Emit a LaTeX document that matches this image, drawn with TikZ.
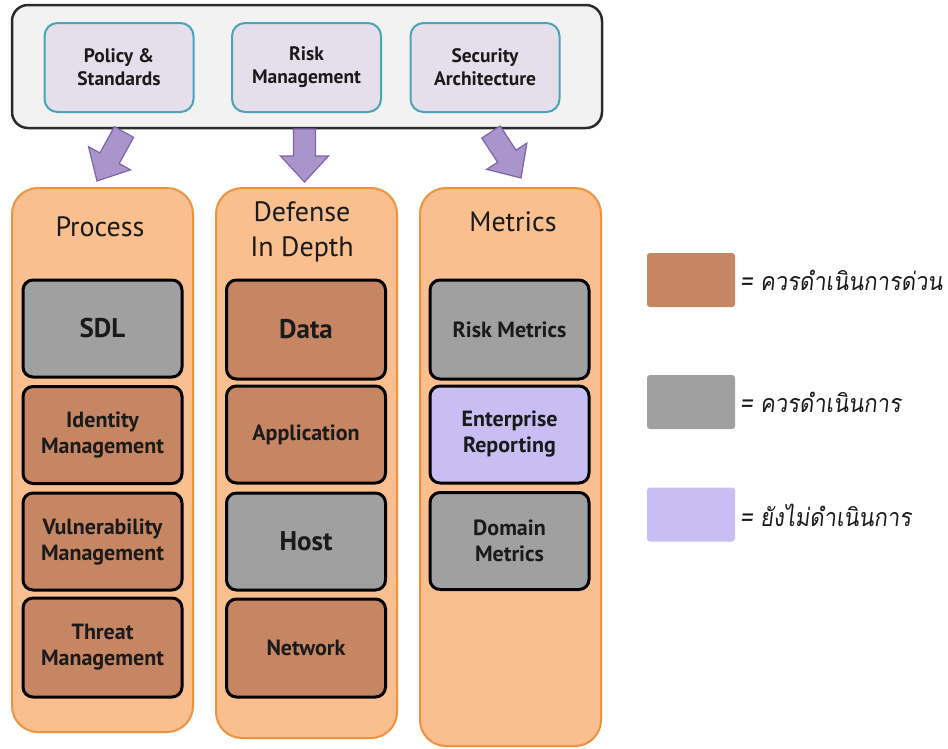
\documentclass[tikz,border=0pt]{standalone}
\usepackage{fontspec}
\setmainfont{PT Sans}
\newfontfamily\thaifont[Script=Thai,FakeSlant=0.12,FakeStretch=0.88]{Loma}
\usetikzlibrary{calc}

\definecolor{panelgray}{HTML}{F2F2F2}
\definecolor{panelline}{HTML}{2B2B2B}
\definecolor{lilac}{HTML}{E5DFEC}
\definecolor{tealline}{HTML}{4BA3B8}
\definecolor{arrowfill}{HTML}{A995CB}
\definecolor{arrowline}{HTML}{7F64A6}
\definecolor{colfill}{HTML}{F9BF8F}
\definecolor{colline}{HTML}{F0913F}
\definecolor{urgent}{HTML}{C68563}
\definecolor{pending}{HTML}{A0A0A0}
\definecolor{notyet}{HTML}{C8BEF4}
\definecolor{ink}{HTML}{1A1A1A}

\tikzset{
  outerpanel/.style={draw=panelline, fill=panelgray, line width=2.5pt, rounded corners=16pt},
  topbox/.style={draw=tealline, fill=lilac, line width=2pt, rounded corners=13pt,
    minimum width=149pt, minimum height=89pt, align=center, text=ink,
    font=\bfseries\fontsize{19.5}{23}\selectfont},
  column/.style={draw=colline, fill=colfill, line width=2pt, rounded corners=26pt, minimum width=181pt},
  coltitle/.style={align=center, text=ink, font=\fontsize{28}{35}\selectfont},
  itembox/.style={draw=black, line width=3pt, rounded corners=10pt, minimum width=159pt,
    minimum height=97pt, align=center, text=ink, font=\bfseries\fontsize{22}{26}\selectfont},
  bigtext/.style={font=\bfseries\fontsize{27}{30}\selectfont},
  blockarrow/.style={draw=arrowline, fill=arrowfill, line width=1.2pt, line join=miter},
  swatch/.style={rounded corners=3pt, minimum width=88pt, minimum height=54pt, inner sep=0pt},
  legendtext/.style={anchor=west, text=ink, font=\thaifont\fontsize{25}{30}\selectfont, inner sep=0pt},
}

% block arrow from #1 (tail) to #2 (tip): shaft half width #3, head half width #4, head length #5
\newcommand\blkarrow[5]{%
  \coordinate (hb) at ($(#2)!#5!(#1)$);
  \draw[blockarrow] ($(#1)!#3!90:(#2)$) -- ($(hb)!#3!90:(#2)$) -- ($(hb)!#4!90:(#2)$)
    -- (#2) -- ($(hb)!#4!-90:(#2)$) -- ($(hb)!#3!-90:(#2)$) -- ($(#1)!#3!-90:(#2)$) -- cycle;}

\begin{document}
\begin{tikzpicture}[x=1pt, y=-1pt]
\useasboundingbox[fill=white] (0,0) rectangle (948,748);

% governance panel
\node[outerpanel, minimum width=590pt, minimum height=123pt] (panel) at (307,66.5) {};
\node[topbox] (policy) at (119,67.5) {Policy \&\\Standards};
\node[topbox] (risk) at (306.5,67.5) {Risk\\Management};
\node[topbox] (secarch) at (485,67.5) {Security\\Architecture};

% three pillars
\node[column, minimum height=544pt] (process) at (102.5,460) {};
\node[column, minimum height=550pt] (defense) at (306.5,463) {};
\node[column, minimum height=558pt] (metrics) at (510.5,467) {};

\node[coltitle] (tprocess) at (100,227) {Process};
\node[coltitle] (tdefense) at (302,232) {Defense\\In Depth};
\node[coltitle] (tmetrics) at (513,222) {Metrics};

% arrows from the panel to the pillars
\coordinate (a1) at (124,132);
\coordinate (b1) at (97,181);
\coordinate (a2) at (304.5,129);
\coordinate (b2) at (304.5,182);
\coordinate (a3) at (491,132);
\coordinate (b3) at (521,178);
\blkarrow{a1}{b1}{11pt}{24pt}{26pt}
\blkarrow{a2}{b2}{11pt}{24pt}{26pt}
\blkarrow{a3}{b3}{11pt}{24pt}{26pt}

% Process items
\node[itembox, fill=pending, bigtext] (sdl) at (102.5,328.5) {SDL};
\node[itembox, fill=urgent] (identity) at (102.5,435) {Identity\\Management};
\node[itembox, fill=urgent] (vuln) at (102.5,541.5) {Vulnerability\\Management};
\node[itembox, fill=urgent, minimum height=99pt] (threat) at (102.5,647.5) {Threat\\Management};

% Defense in depth items
\node[itembox, fill=urgent, bigtext, minimum height=99pt] (data) at (306,329.5) {Data};
\node[itembox, fill=urgent] (app) at (306,434.5) {Application};
\node[itembox, fill=pending, bigtext] (host) at (306,541.5) {Host};
\node[itembox, fill=urgent, minimum height=98pt] (network) at (306,648) {Network};

% Metrics items
\node[itembox, fill=pending, minimum height=99pt] (riskmet) at (509.5,329.5) {Risk Metrics};
\node[itembox, fill=notyet] (enterprise) at (509.5,434.5) {Enterprise\\Reporting};
\node[itembox, fill=pending] (domain) at (509.5,541) {Domain\\Metrics};

% legend
\node[swatch, fill=urgent] (lg1) at (691,280) {};
\node[swatch, fill=pending] (lg2) at (691,402) {};
\node[swatch, fill=notyet] (lg3) at (691,514.5) {};
\node[legendtext] (lt1) at (740,280) {= ควรดำเนินการด่วน};
\node[legendtext] (lt2) at (740,402) {= ควรดำเนินการ};
\node[legendtext] (lt3) at (740,515) {= ยังไม่ดำเนินการ};
\end{tikzpicture}
\end{document}
